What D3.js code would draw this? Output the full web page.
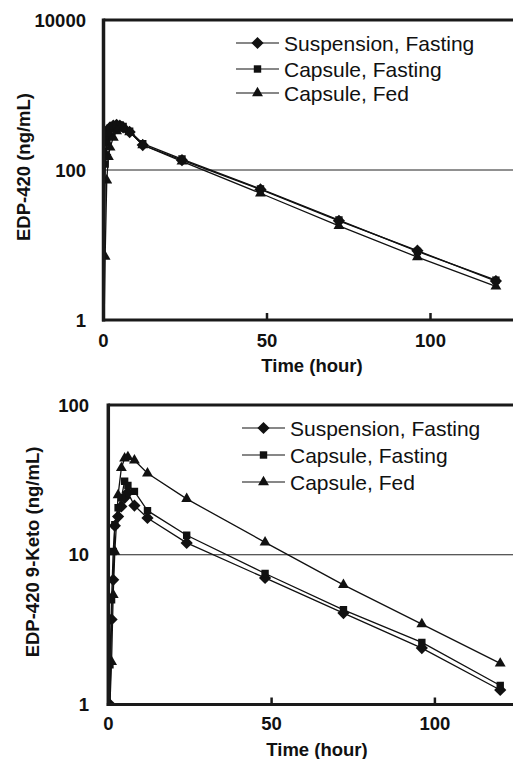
<!DOCTYPE html>
<html>
<head>
<meta charset="utf-8">
<script src="https://cdn.jsdelivr.net/npm/d3@7"></script>
<style>
  body { margin: 0; background: #fff; }
  svg { display: block; font-family: "Liberation Sans", Arial, sans-serif; }
</style>
</head>
<body>
<svg width="513" height="759"></svg>
<script>
// sampling times (hour), 0 = predose (below the axis, clipped)
var times = [0, 0.5, 1, 1.5, 2, 3, 4, 5, 6, 8, 12, 24, 48, 72, 96, 120];

var seriesNames = ["Suspension, Fasting", "Capsule, Fasting", "Capsule, Fed"];
var seriesSymbols = ["diamond", "square", "triangle"];

// EDP-420 (ng/mL)
var parentSusp = [0, 160, 280, 340, 370, 390, 400, 390, 370, 320, 215, 135, 55, 21, 8.4, 3.3];
var parentCap  = [0, 120, 230, 310, 360, 390, 400, 400, 380, 330, 225, 140, 56, 21.5, 8.2, 3.4];
var parentFed  = [0, 7, 73, 150, 200, 270, 330, 360, 360, 320, 215, 130, 49, 18, 6.9, 2.8];

// EDP-420 9-Keto (ng/mL)
var ketoSusp = [0, 1.0, 3.7, 6.8, 15.6, 18, 21, 24, 26, 21.3, 17.6, 12, 7.0, 4.08, 2.38, 1.25];
var ketoCap  = [0, 1.84, 5.0, 10.5, 15.9, 20.6, 24, 31, 29, 26.5, 19.7, 13.5, 7.5, 4.29, 2.6, 1.34];
var ketoFed  = [0, 1.0, 1.93, 5.4, 10.5, 25, 38, 44, 45, 42.7, 35, 23.6, 12.1, 6.3, 3.44, 1.88];

var xTicks = [0, 50, 100];
var parentYTicks = [1, 100, 10000];
var ketoYTicks = [1, 10, 100];

var svg = d3.select("svg");

function drawPanel(opt) {
  var g = svg.append("g");
  var x = d3.scaleLinear().domain([0, opt.xMax]).range([opt.left, 520]);
  var y = d3.scaleLog().domain(opt.yDomain).range([opt.bottom, opt.top]);

  var clipId = "clip" + opt.id;
  svg.append("defs").append("clipPath").attr("id", clipId)
    .append("rect")
      .attr("x", opt.left).attr("y", opt.top)
      .attr("width", 520 - opt.left).attr("height", opt.bottom - opt.top);

  // gridline
  g.append("line")
      .attr("x1", opt.left).attr("x2", 520)
      .attr("y1", y(opt.grid)).attr("y2", y(opt.grid))
      .attr("stroke", "#222").attr("stroke-width", 1);

  var line = d3.line()
      .x(function(d) { return x(d.t); })
      .y(function(d) { return d.v > 0 ? y(d.v) : opt.bottom + 40; });

  var symbolGen = {
    diamond: d3.symbol().type(d3.symbolDiamond2).size(95),
    square: d3.symbol().type(d3.symbolSquare2).size(70),
    triangle: d3.symbol().type(d3.symbolTriangle2).size(85)
  };

  var plot = g.append("g").attr("clip-path", "url(#" + clipId + ")");
  opt.series.forEach(function(vals, i) {
    var pts = times.map(function(t, j) { return {t: t, v: vals[j]}; });
    plot.append("path")
        .datum(pts)
        .attr("fill", "none")
        .attr("stroke", "#111")
        .attr("stroke-width", 1.3)
        .attr("d", line);
    plot.selectAll(".m" + i)
      .data(pts.filter(function(d) { return d.v > 0; }))
      .enter().append("path")
        .attr("transform", function(d) { return "translate(" + x(d.t) + "," + y(d.v) + ")"; })
        .attr("d", symbolGen[seriesSymbols[i]])
        .attr("fill", "#111");
  });

  // frame
  g.append("line").attr("x1", opt.left).attr("x2", 520)
      .attr("y1", opt.top).attr("y2", opt.top)
      .attr("stroke", "#1a1a1a").attr("stroke-width", 3);
  g.append("line").attr("x1", opt.left - 1.5).attr("x2", 520)
      .attr("y1", opt.bottom).attr("y2", opt.bottom)
      .attr("stroke", "#1a1a1a").attr("stroke-width", 3);
  g.append("line").attr("x1", opt.left).attr("x2", opt.left)
      .attr("y1", opt.top - 1.5).attr("y2", opt.bottom + 1.5)
      .attr("stroke", "#1a1a1a").attr("stroke-width", 3.5);

  // x ticks (inward)
  g.selectAll(".xt").data(xTicks.slice(1)).enter().append("line")
      .attr("x1", function(d) { return x(d); }).attr("x2", function(d) { return x(d); })
      .attr("y1", opt.bottom).attr("y2", opt.bottom - 7)
      .attr("stroke", "#1a1a1a").attr("stroke-width", 2.5);
  g.selectAll(".xl").data(xTicks).enter().append("text")
      .attr("x", function(d) { return x(d); })
      .attr("y", opt.xLabelY)
      .attr("text-anchor", "middle").attr("dominant-baseline", "central")
      .attr("font-weight", "bold").attr("font-size", 18.5)
      .attr("fill", "#111")
      .text(function(d) { return d; });

  g.selectAll(".yl").data(opt.yTicks).enter().append("text")
      .attr("x", opt.yLabelX)
      .attr("y", function(d) { return y(d); })
      .attr("text-anchor", "end").attr("dominant-baseline", "central")
      .attr("font-weight", "bold").attr("font-size", 18.5)
      .attr("fill", "#111")
      .text(function(d) { return d; });

  g.append("text")
      .attr("x", opt.xTitleX).attr("y", opt.xTitleY)
      .attr("text-anchor", "middle").attr("dominant-baseline", "central")
      .attr("font-weight", "bold").attr("font-size", 18.5)
      .attr("fill", "#111")
      .text("Time (hour)");

  g.append("text")
      .attr("transform", "translate(" + opt.yTitleX + "," + opt.yTitleY + ") rotate(-90)")
      .attr("text-anchor", "middle").attr("dominant-baseline", "central")
      .attr("font-weight", "bold").attr("font-size", 18.5)
      .attr("fill", "#111")
      .text(opt.yTitle);

  // legend
  var leg = g.selectAll(".leg").data(seriesNames).enter().append("g")
      .attr("transform", function(d, i) { return "translate(" + opt.legX + "," + opt.legY[i] + ")"; });
  leg.append("line").attr("x1", 0).attr("x2", 43)
      .attr("stroke", "#111").attr("stroke-width", 1.2);
  leg.append("path")
      .attr("transform", "translate(21.5,0)")
      .attr("d", function(d, i) { return symbolGen[seriesSymbols[i]](); })
      .attr("fill", "#111");
  leg.append("text")
      .attr("x", 48).attr("y", 0)
      .attr("dominant-baseline", "central")
      .attr("font-size", 21).attr("fill", "#111")
      .text(function(d) { return d; });
}

drawPanel({
  id: 1, left: 103.5, top: 20, bottom: 320, xMax: (520 - 103.5) / 3.27,
  yDomain: [1, 10000], yTicks: parentYTicks, grid: 100,
  series: [parentSusp, parentCap, parentFed],
  xLabelY: 340, yLabelX: 86, xTitleX: 312, xTitleY: 365,
  yTitleX: 23, yTitleY: 167, yTitle: "EDP-420 (ng/mL)",
  legX: 236, legY: [43, 69, 93]
});

drawPanel({
  id: 2, left: 108.3, top: 405, bottom: 704.5, xMax: (520 - 108.3) / 3.266,
  yDomain: [1, 100], yTicks: ketoYTicks, grid: 10,
  series: [ketoSusp, ketoCap, ketoFed],
  xLabelY: 723, yLabelX: 89, xTitleX: 317, xTitleY: 749,
  yTitleX: 32, yTitleY: 552, yTitle: "EDP-420 9-Keto (ng/mL)",
  legX: 242, legY: [428, 455, 482]
});
</script>
</body>
</html>
